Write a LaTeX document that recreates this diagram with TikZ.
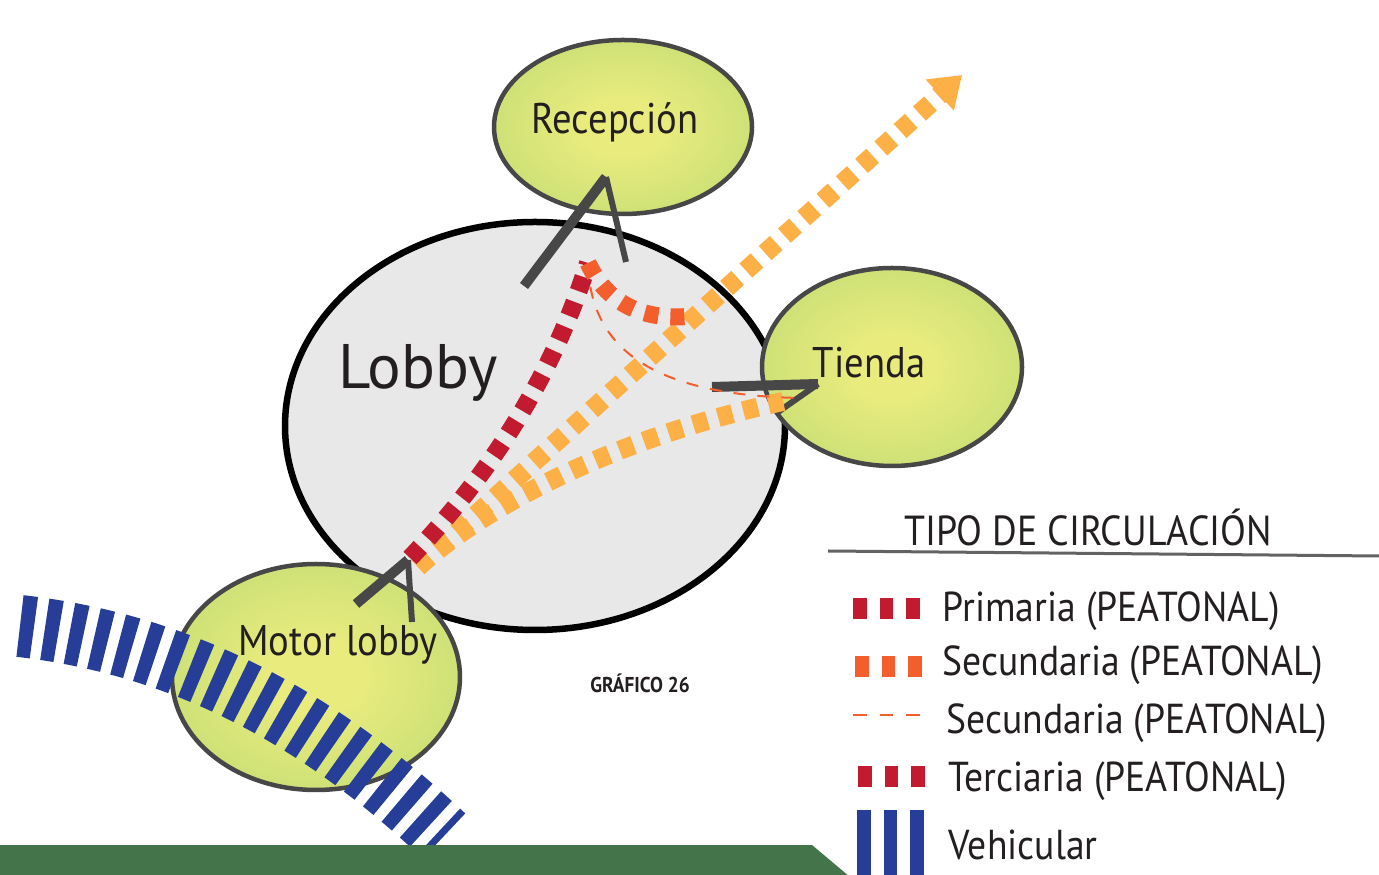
\documentclass[tikz,border=0pt]{standalone}
\usepackage{fontspec}
\setmainfont{PT Sans}[FakeStretch=0.9]
\newfontfamily\hallfont{PT Sans}
\usetikzlibrary{shapes.geometric,arrows.meta}
\definecolor{hallgray}{HTML}{E8E8E8}
\definecolor{rimgray}{HTML}{474747}
\definecolor{roomyellow}{HTML}{E9EB7D}
\definecolor{roomgreen}{HTML}{A6D36E}
\definecolor{primred}{HTML}{C21B2F}
\definecolor{secorange}{HTML}{F45E2C}
\definecolor{lightorange}{HTML}{FCB046}
\definecolor{vehblue}{HTML}{263E98}
\definecolor{bargreen}{HTML}{44744A}
\definecolor{inkblack}{HTML}{231F20}
\pgfdeclareradialshading{roomshade}{\pgfpoint{0bp}{0bp}}{color(0bp)=(roomyellow); color(8bp)=(roomyellow); color(50bp)=(roomgreen); color(75bp)=(roomgreen)}
\tikzset{
	hall/.style={ellipse,draw=black,line width=0.65mm,fill=hallgray,inner sep=0,outer sep=0},
	room/.style={ellipse,draw=rimgray,line width=0.45mm,shading=roomshade,inner sep=0,outer sep=0},
	roomlabel/.style={text=inkblack,font=\fontsize{12.2}{14}\selectfont,inner sep=0},
	legendtext/.style={text=inkblack,font=\fontsize{11.9}{13}\selectfont,inner sep=0,anchor=west},
	sketchshaft/.style={draw=rimgray,line width=1mm,line cap=butt},
	sketchbarb/.style={draw=rimgray,line width=0.6mm,line cap=butt},
	primpath/.style={draw=primred,line width=1.8mm,dash pattern=on 1.5mm off 1.15mm},
	secpath/.style={draw=secorange,line width=1.7mm,dash pattern=on 1.4mm off 1.2mm},
	secthin/.style={draw=secorange,line width=0.2mm,dash pattern=on 1.2mm off 1.2mm},
	lightpath/.style={draw=lightorange,line width=1.9mm,dash pattern=on 1.5mm off 1.1mm},
	vehpath/.style={draw=vehblue,line width=6.2mm,dash pattern=on 1.4mm off 1.1mm},
	keymark/.style={line width=2.1mm,dash pattern=on 1.35mm off 1.3mm}
}
\begin{document}
\begin{tikzpicture}[x=0.1mm,y=-0.1mm]
	\useasboundingbox (0,0) rectangle (1379,875);
	\node[hall,minimum width=50mm,minimum height=40.8mm] (lob) at (535,426) {};
	\node[room,minimum width=25.8mm,minimum height=17.4mm] (rec) at (623,127) {};
	\node[room,minimum width=26mm,minimum height=19.8mm] (tie) at (892,367) {};
	\node[room,minimum width=28.8mm,minimum height=22.6mm] (mot) at (316,677) {};
	\node[roomlabel,font=\hallfont\fontsize{17.9}{20}\selectfont] (loblabel) at (418,373) {Lobby};
	\node[roomlabel] (reclabel) at (615,122) {Recepción};
	\node[roomlabel] (tielabel) at (869,363) {Tienda};
	\node[roomlabel] (motlabel) at (338,645) {Motor lobby};
	\node[text=inkblack,font=\fontsize{6.1}{7}\selectfont\bfseries,inner sep=0] (graf) at (640,683) {GRÁFICO 26};

	\coordinate (recfoot) at (524,286);
	\coordinate (rectip) at (606,177);
	\coordinate (recbarb) at (626,262);
	\coordinate (tiefoot) at (712,387);
	\coordinate (tietip) at (818,384);
	\coordinate (tiebarb) at (778,412);
	\coordinate (motfoot) at (356,604);
	\coordinate (mottip) at (408,560);
	\coordinate (motbarb) at (412,622);
	\draw[sketchshaft] (recfoot) -- (rectip);
	\draw[sketchbarb] (rectip) -- (recbarb);
	\draw[sketchshaft] (tiefoot) -- (tietip);
	\draw[sketchbarb] (tietip) -- (tiebarb);
	\draw[sketchshaft] (motfoot) -- (mottip);
	\draw[sketchbarb] (mottip) -- (motbarb);

	\coordinate (vehstart) at (20,626);
	\coordinate (vehend) at (444,836);
	\coordinate (redstart) at (410,558);
	\coordinate (redend) at (588,263);
	\coordinate (secend) at (692,316);
	\coordinate (thinend) at (800,398);
	\coordinate (lightstart) at (418,567);
	\coordinate (lighttip) at (962,75);
	\coordinate (lightend) at (790,400);
	\draw[vehpath] (vehstart) .. controls (160,642) and (300,700) .. (vehend);
	\draw[lightpath,-{Triangle[length=3mm,width=4mm]}] (lightstart) -- (lighttip);
	\draw[lightpath] (lightstart) .. controls (475,515) and (600,440) .. (lightend);
	\draw[primpath] (redstart) .. controls (470,495) and (545,400) .. (redend);
	\draw[secpath] (redend) .. controls (605,300) and (640,322) .. (secend);
	\draw[secthin] (redend) .. controls (590,340) and (640,395) .. (thinend);

	\fill[bargreen] (0,845) -- (812,845) -- (850,877) -- (0,877) -- cycle;

	\node[text=inkblack,font=\fontsize{11.95}{14}\selectfont,inner sep=0] (keytitle) at (1088,527) {TIPO DE CIRCULACIÓN};
	\draw[rimgray!85,line width=0.3mm] (828,551) -- (1379,556);
	\draw[keymark,primred] (853,609) -- (922,609);
	\draw[keymark,secorange] (855,667) -- (924,667);
	\draw[secorange,line width=0.2mm,dash pattern=on 1.35mm off 1.3mm] (853,715) -- (922,715);
	\draw[keymark,primred] (858,777) -- (927,777);
	\draw[vehblue,line width=7mm,dash pattern=on 1.35mm off 1.3mm] (857,845) -- (926,845);
	\node[legendtext] (key1) at (942,611) {Primaria (PEATONAL)};
	\node[legendtext] (key2) at (942,665) {Secundaria (PEATONAL)};
	\node[legendtext] (key3) at (946,723) {Secundaria (PEATONAL)};
	\node[legendtext] (key4) at (948,781) {Terciaria (PEATONAL)};
	\node[legendtext] (key5) at (948,845) {Vehicular};
\end{tikzpicture}
\end{document}
